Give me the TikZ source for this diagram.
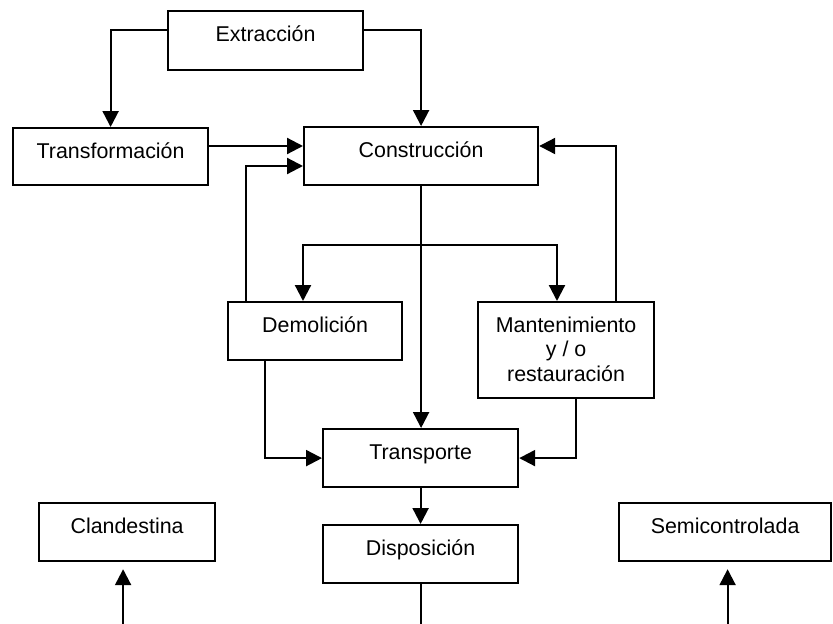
\documentclass[tikz,border=0pt]{standalone}
\usepackage{fontspec}
\setmainfont{Liberation Sans}
\usetikzlibrary{arrows.meta,calc}

% fixed-size box content: text set near the top, centred
\newcommand\boxlabel[3]{\parbox[t][#2][t]{#1}{\centering\rule{0pt}{30pt}#3}}

\tikzset{
  box/.style={draw, line width=2.2pt, inner sep=0pt, anchor=north west,
    font=\fontsize{21.4}{24.5}\selectfont},
  link/.style={draw, line width=2.2pt},
  arr/.style={link, -{Triangle[length=16pt,width=16pt]}},
}

\begin{document}
\begin{tikzpicture}[x=1pt, y=-1pt]
  \useasboundingbox (0,0) rectangle (833,624);
  \coordinate (bot) at (0,624);

  % stages
  \node[box] (ext) at (167,10)  {\boxlabel{195pt}{59pt}{Extracción}};
  \node[box] (trf) at (12,127)  {\boxlabel{195pt}{57pt}{Transformación}};
  \node[box] (con) at (303,126) {\boxlabel{234pt}{58pt}{Construcción}};
  \node[box] (dem) at (227,301) {\boxlabel{174pt}{58pt}{Demolición}};
  \node[box] (man) at (477,301) {\boxlabel{176pt}{96pt}{Mantenimiento\\y / o\\restauración}};
  \node[box] (tra) at (322,428) {\boxlabel{195pt}{58pt}{Transporte}};
  \node[box] (dis) at (322,524) {\boxlabel{195pt}{58pt}{Disposición}};
  \node[box] (cla) at (38,502)  {\boxlabel{176pt}{58pt}{Clandestina}};
  \node[box] (sem) at (618,502) {\boxlabel{212pt}{58pt}{Semicontrolada}};

  % flows from extraction
  \draw[arr] ($(ext.north west)+(0,20)$) -| (trf.north);
  \draw[arr] ($(ext.north east)+(0,20)$) -| (con.north);
  \coordinate (t1) at ($(trf.north east)+(0,19)$);
  \draw[arr] (t1) -- (t1 -| con.west);

  % feedback into construction
  \draw[arr] ($(dem.north west)+(19,0)$) |- ($(con.north west)+(0,40)$);
  \draw[arr] ($(man.north east)+(-39,0)$) |- ($(con.north east)+(0,20)$);

  % construction to transport, with branch to demolition / maintenance
  \draw[arr] (con.south) -- (con.south |- tra.north);
  \coordinate (fork) at ($(con.south)+(0,59)$);
  \draw[arr] (fork) -| ($(dem.north west)+(76,0)$);
  \draw[arr] (fork) -| ($(man.north west)+(80,0)$);

  % into transport
  \draw[arr] ($(dem.south west)+(38,0)$) |- (tra.west);
  \draw[arr] ($(man.south west)+(99,0)$) |- (tra.east);
  \draw[arr] (tra.south) -- (dis.north);

  % disposal routes
  \draw[link] (dis.south) -- (dis.south |- bot);
  \coordinate (c1) at ($(cla.south)+(-4,7)$);
  \draw[arr] (c1 |- bot) -- (c1);
  \coordinate (s1) at ($(sem.south)+(2.5,7)$);
  \draw[arr] (s1 |- bot) -- (s1);
\end{tikzpicture}
\end{document}
